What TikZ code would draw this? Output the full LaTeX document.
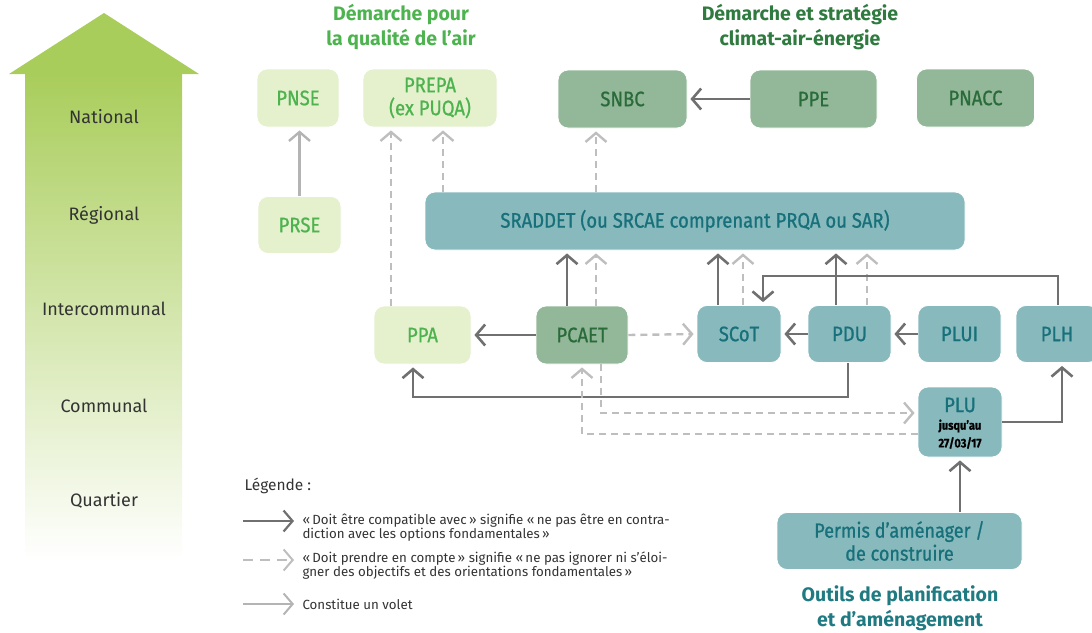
\documentclass[tikz,border=0pt]{standalone}
\usepackage{fontspec}
\setmainfont{Fira Sans}
\newfontfamily\boxfont{Fira Sans}[FakeStretch=0.88, FakeBold=0.8]
\usetikzlibrary{arrows.meta}
\definecolor{lgfill}{HTML}{E5F0CD}
\definecolor{lgtext}{HTML}{4DB34F}
\definecolor{dgfill}{HTML}{93B899}
\definecolor{dgtext}{HTML}{2A6B3A}
\definecolor{tlfill}{HTML}{87B9BD}
\definecolor{tltext}{HTML}{17707A}
\definecolor{tonecol}{HTML}{4DB34F}
\definecolor{ttwocol}{HTML}{2F7A3F}
\definecolor{tthreecol}{HTML}{1F7A82}
\definecolor{darr}{HTML}{707070}
\definecolor{larr}{HTML}{BEBEBE}
\definecolor{varr}{HTML}{B4B4B4}
\definecolor{bigarrow}{HTML}{A9CD5B}
\definecolor{bigmid}{HTML}{D3E6AE}
\definecolor{txt}{HTML}{333333}
\begin{document}
\begin{tikzpicture}[x=1pt,y=-1pt,
  box/.style={rounded corners=10pt, inner sep=0pt, align=center, draw=white, line width=0.8pt,
    font=\boxfont\fontsize{21}{23}\selectfont},
  lg/.style={box, fill=lgfill, text=lgtext},
  dg/.style={box, fill=dgfill, text=dgtext},
  tl/.style={box, fill=tlfill, text=tltext},
  tip/.style={-{Straight Barb[length=9pt,width=21pt]}},
  compat/.style={draw=darr, line width=2.6pt, tip, shorten >=3pt},
  prise/.style={draw=larr, line width=2.4pt, dash pattern=on 7pt off 5pt, tip, shorten >=3pt},
  volet/.style={draw=varr, line width=2.4pt, tip, shorten >=3pt},
  level/.style={font=\fontsize{18}{21}\selectfont, text=txt},
  title/.style={align=center, font=\bfseries\fontsize{19.5}{24.5}\selectfont},
  legtext/.style={anchor=west, align=left, text=txt, font=\fontsize{13.3}{14}\selectfont}
]
\useasboundingbox (0,0) rectangle (1092,632);

% big level arrow
\fill[bigarrow] (9,74) -- (104,13) -- (199,74) -- cycle;
\shade[top color=bigarrow, middle color=bigmid, bottom color=white] (25,73.5) rectangle (182,560);
\node[level] (lnat) at (104,117) {National};
\node[level] (lreg) at (104,215) {Régional};
\node[level] (lint) at (104,309) {Intercommunal};
\node[level] (lcom) at (104,406) {Communal};
\node[level] (lqua) at (104,500) {Quartier};

% titles
\node[title, text=tonecol] (t1) at (401,27) {Démarche pour\\la qualité de l’air};
\node[title, text=ttwocol] (t2) at (800,27) {Démarche et stratégie\\climat-air-énergie};
\node[title, text=tthreecol] (t3) at (900,608) {Outils de planification\\et d’aménagement};

% boxes
\node[lg, minimum width=82pt, minimum height=58pt] (PNSE) at (298,98) {PNSE};
\node[lg, minimum width=134pt, minimum height=58pt] (PREPA) at (430,98) {PREPA\\(ex PUQA)};
\node[dg, minimum width=129pt, minimum height=58pt] (SNBC) at (622.5,99) {SNBC};
\node[dg, minimum width=127pt, minimum height=58pt] (PPE) at (813.5,99) {PPE};
\node[dg, minimum width=118pt, minimum height=58pt] (PNACC) at (975.5,98) {PNACC};
\node[lg, minimum width=83pt, minimum height=57pt] (PRSE) at (299.5,225) {PRSE};
\node[tl, minimum width=540pt, minimum height=58pt] (SRADDET) at (695,221) {SRADDET (ou SRCAE comprenant PRQA ou SAR)};
\node[lg, minimum width=97pt, minimum height=58pt] (PPA) at (422.5,335) {PPA};
\node[dg, minimum width=92pt, minimum height=58pt] (PCAET) at (582,335) {PCAET};
\node[tl, minimum width=84pt, minimum height=57pt] (SCoT) at (739,334) {SCoT};
\node[tl, minimum width=83pt, minimum height=57pt] (PDU) at (849.5,334) {PDU};
\node[tl, minimum width=83pt, minimum height=57pt] (PLUI) at (959.5,334) {PLUI};
\node[tl, minimum width=82pt, minimum height=57pt] (PLH) at (1057,334) {PLH};
\node[tl, minimum width=84pt, minimum height=70pt] (PLU) at (960,422) {};
\node[text=tltext, font=\boxfont\fontsize{21}{23}\selectfont] (PLUa) at (960,405) {PLU};
\node[font=\boxfont\bfseries\fontsize{12.5}{14}\selectfont, text=black] (PLUb) at (960,426) {jusqu’au};
\node[font=\boxfont\bfseries\fontsize{12.5}{14}\selectfont, text=black] (PLUc) at (960,443) {27/03/17};
\node[tl, minimum width=245pt, minimum height=57pt, font=\boxfont\fontsize{20.5}{23}\selectfont] (Permis) at (899.5,541) {Permis d’aménager /\\de construire};

% helper coordinates
\coordinate (hPLH) at (0,276);
\coordinate (hPDU) at (0,397);
\coordinate (aPREPA) at ([xshift=-39pt]PREPA.south);
\coordinate (bPREPA) at ([xshift=13pt]PREPA.south);
\coordinate (aSNBC) at ([xshift=-26.5pt]SNBC.south);

% connectors
\draw[compat] (PPE.west) -- (SNBC.east);
\draw[volet] (PRSE.north) -- (PRSE.north |- PNSE.south);
\draw[prise] (PPA.north -| aPREPA) -- (aPREPA);
\draw[prise] (SRADDET.north -| bPREPA) -- (bPREPA);
\draw[prise] (SRADDET.north -| aSNBC) -- (aSNBC);

\draw[compat] ([xshift=-15pt]PCAET.north) -- ([xshift=-15pt]PCAET.north |- SRADDET.south);
\draw[prise] ([xshift=14pt]PCAET.north) -- ([xshift=14pt]PCAET.north |- SRADDET.south);
\draw[compat] ([xshift=-21pt]SCoT.north) -- ([xshift=-21pt]SCoT.north |- SRADDET.south);
\draw[prise] ([xshift=4pt]SCoT.north) -- ([xshift=4pt]SCoT.north |- SRADDET.south);
\draw[compat] ([xshift=-13.5pt]PDU.north) -- ([xshift=-13.5pt]PDU.north |- SRADDET.south);
\draw[prise] ([xshift=17.5pt]PDU.north) -- ([xshift=17.5pt]PDU.north |- SRADDET.south);

\draw[compat] ([xshift=1pt]PLH.north) |- ([xshift=24pt]SCoT.north |- hPLH) -- ([xshift=24pt]SCoT.north);

\draw[compat] (PCAET.west) -- (PPA.east);
\draw[prise] (PCAET.east) -- (SCoT.west);
\draw[compat] (PDU.west) -- (SCoT.east);
\draw[compat] (PLUI.west) -- (PDU.east);
\draw[compat] ([xshift=-1.5pt]PDU.south) |- ([xshift=-9.5pt]PPA.south |- hPDU) -- ([xshift=-9.5pt]PPA.south);
\draw[prise] ([xshift=19pt]PCAET.south) |- ([yshift=9pt]PLU.west);
\draw[prise] ([yshift=-12pt]PLU.west) -| (PCAET.south);
\draw[compat] (PLU.east) -| ([xshift=5pt]PLH.south);
\draw[compat] (Permis.north -| PLU.south) -- (PLU.south);

% legend
\node[anchor=west, text=txt, font=\fontsize{15.5}{17}\selectfont] (leg) at (241,486) {Légende :};
\coordinate (la1) at (243,521); \coordinate (lb1) at (294,521);
\coordinate (la2) at (243,560); \coordinate (lb2) at (294,560);
\coordinate (la3) at (243,604); \coordinate (lb3) at (294,604);
\draw[compat, line width=2.2pt, shorten >=0pt] (la1) -- (lb1);
\draw[prise, line width=2pt, dash pattern=on 10pt off 7pt, shorten >=0pt] (la2) -- (lb2);
\draw[volet, line width=2pt, shorten >=0pt] (la3) -- (lb3);
\node[legtext] (leg1) at (299,528) {«\,Doit être compatible avec\,» signifie «\,ne pas être en contra-\\diction avec les options fondamentales\,»};
\node[legtext] (leg2) at (299,566) {«\,Doit prendre en compte\,» signifie «\,ne pas ignorer ni s’éloi-\\gner des objectifs et des orientations fondamentales\,»};
\node[legtext] (leg3) at (299,604) {Constitue un volet};
\end{tikzpicture}
\end{document}
